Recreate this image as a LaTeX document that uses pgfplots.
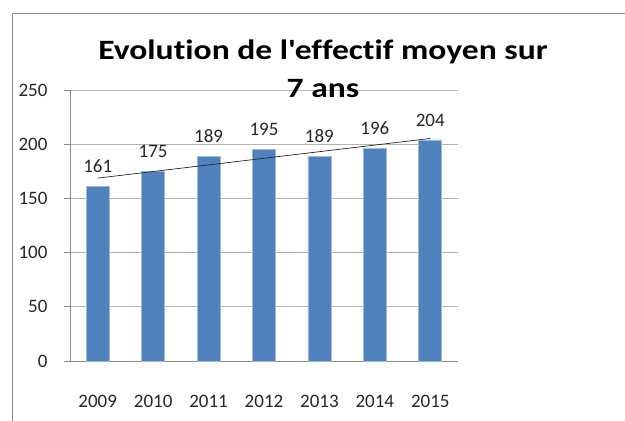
\documentclass[border=0pt]{standalone}
\usepackage{fontspec}
\setmainfont[Ligatures=NoCommon]{Carlito}
\newfontfamily\titlefont[FakeStretch=1.2, Ligatures=NoCommon]{Carlito}
\usepackage{pgfplots}
\pgfplotsset{compat=1.18}
\definecolor{barBlue}{HTML}{4F81BD}
\definecolor{gridGrey}{HTML}{B4B4B4}
\definecolor{axGrey}{HTML}{8A8A8A}

\begin{document}
\begin{tikzpicture}
\useasboundingbox (0pt,0pt) rectangle (625pt,421pt);
% outer chart frame (cropped)
\draw[axGrey, line width=0.9pt] (12pt,0pt) -- (12pt,408pt) -- (625pt,408pt);
\begin{axis}[
  at={(70pt,60pt)}, anchor=south west,
  scale only axis, width=388pt, height=271pt,
  xmin=-0.5, xmax=6.5, ymin=0, ymax=250,
  ytick={0,50,...,250},
  xtick={0,...,6},
  xticklabels={2009,2010,2011,2012,2013,2014,2015},
  minor xtick={-0.5,0.5,...,6.5},
  axis lines*=left,
  axis line style={axGrey, line width=0.8pt},
  ymajorgrids, grid style={gridGrey, line width=0.8pt},
  tick align=outside,
  tick style={axGrey, line width=0.8pt},
  major tick length=6pt, minor tick length=7pt,
  x tick style={draw=none},
  minor x tick style={axGrey, line width=0.8pt},
  /pgf/number format/assume math mode=true,
  /pgf/number format/1000 sep={},
  tick label style={font=\fontsize{19}{22}\selectfont, text=black!85},
  xticklabel style={yshift=-25pt},
  yticklabel style={anchor=east, xshift=-13pt},
  ybar, bar width=23pt,
  clip=false,
]
\addplot[fill=barBlue, draw=barBlue!55!white, line width=0.6pt,
  nodes near coords,
  every node near coord/.append style={font=\fontsize{19}{22}\selectfont, text=black!85, yshift=10pt}]
  coordinates {(0,161) (1,175) (2,189) (3,195) (4,189) (5,196) (6,204)};
\addplot[black!85, line width=0.7pt, sharp plot] coordinates {(0,168.7) (6,205.3)};
\end{axis}
\node[font=\titlefont\bfseries\fontsize{28}{38}\selectfont, align=center, text=black]
  at (323pt,352pt) {Evolution de l\textquotesingle effectif moyen sur\\7 ans};
\end{tikzpicture}
\end{document}
